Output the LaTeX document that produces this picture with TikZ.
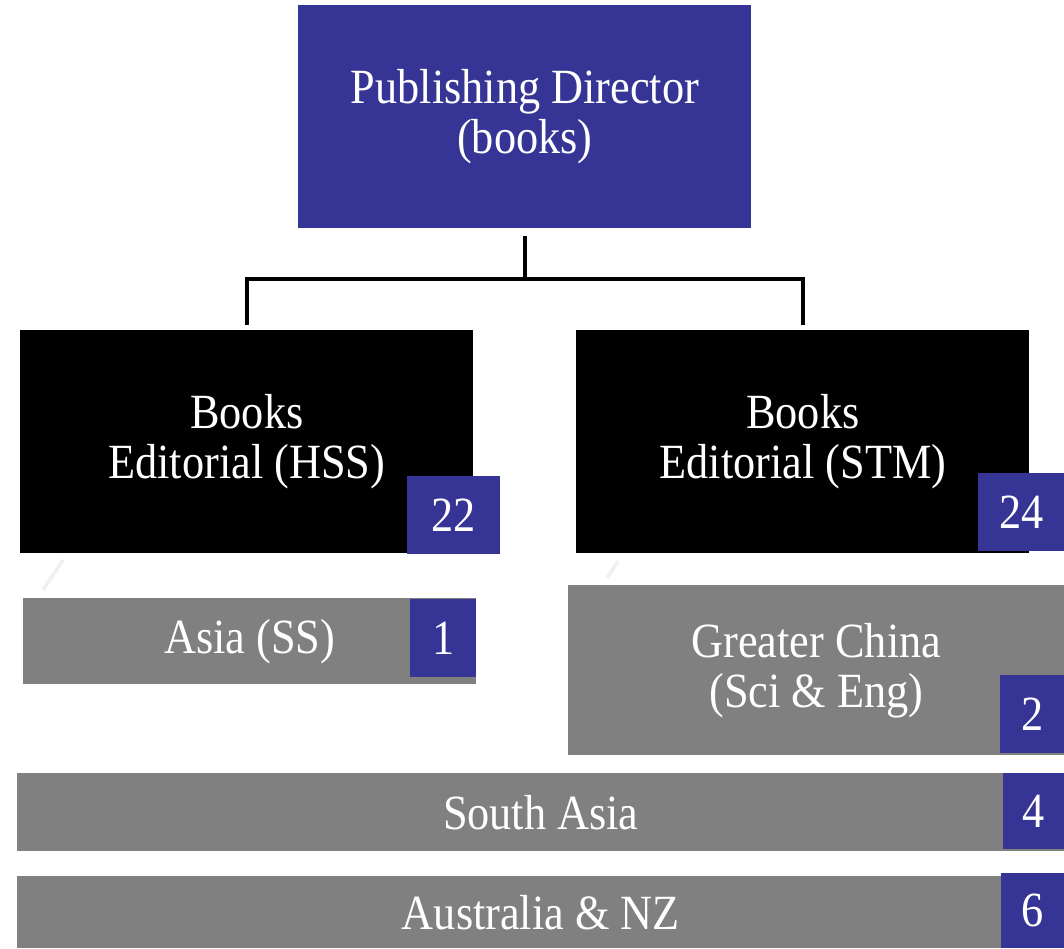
\documentclass[tikz,border=0pt]{standalone}
\usepackage{fontspec}
\setmainfont[FakeStretch=0.9]{Liberation Serif}
\usetikzlibrary{positioning,calc}
\definecolor{pubblue}{RGB}{54,53,150}
\definecolor{pubgray}{RGB}{128,128,128}

\begin{document}
\begin{tikzpicture}[
    box/.style={anchor=north west, inner sep=0pt, text=white, align=center,
        font=\fontsize{28}{28.4}\selectfont},
    topbox/.style={box, fill=pubblue},
    headbox/.style={box, fill=black},
    regionbox/.style={box, fill=pubgray},
    countbox/.style={box, fill=pubblue},
    tree/.style={line width=2.3pt, black}
]

\useasboundingbox (0,0) rectangle (21.28,-18.96);

% Director
\node[topbox, minimum width=9.06cm, minimum height=4.46cm] (director) at (5.96,-0.10) {Publishing Director\\(books)};

% Editorial heads
\node[headbox, minimum width=9.06cm, minimum height=4.46cm] (hss) at (0.40,-6.60) {Books\\Editorial (HSS)};
\node[headbox, minimum width=9.06cm, minimum height=4.46cm] (stm) at (11.52,-6.60) {Books\\Editorial (STM)};
\node[countbox, minimum width=1.86cm, minimum height=1.56cm] (nhss) at (8.14,-9.52) {22};
\node[countbox, minimum width=1.72cm, minimum height=1.56cm] (nstm) at (19.56,-9.46) {24};

% Connectors
\coordinate (fork) at ($(director.south)+(0,-1.00)$);
\draw[tree] ([yshift=-0.14cm]director.south) -- (fork);
\draw[tree] (fork) -| ([yshift=0.10cm]hss.north);
\draw[tree] (fork) -| ([yshift=0.10cm]stm.north);

% faint strokes
\draw[gray!12, line width=2pt] (0.86,-11.80) -- (1.26,-11.20);
\draw[gray!12, line width=2pt] (12.14,-11.56) -- (12.36,-11.22);

% Regions
\node[regionbox, minimum width=9.06cm, minimum height=1.72cm] (asia) at (0.46,-11.96) {Asia (SS)};
\node[countbox, minimum width=1.32cm, minimum height=1.56cm] (nasia) at (8.20,-11.98) {1};

\node[regionbox, minimum width=9.92cm, minimum height=3.40cm] (china) at (11.36,-11.70) {Greater China\\(Sci \& Eng)};
\node[countbox, minimum width=1.28cm, minimum height=1.56cm] (nchina) at (20.00,-13.50) {2};

\node[regionbox, minimum width=20.94cm, minimum height=1.56cm] (south) at (0.34,-15.46) {South Asia};
\node[countbox, minimum width=1.22cm, minimum height=1.52cm] (nsouth) at (20.06,-15.46) {4};

\node[regionbox, minimum width=20.94cm, minimum height=1.44cm] (aus) at (0.34,-17.52) {Australia \& NZ};
\node[countbox, minimum width=1.26cm, minimum height=1.50cm] (naus) at (20.02,-17.46) {6};

\end{tikzpicture}
\end{document}
